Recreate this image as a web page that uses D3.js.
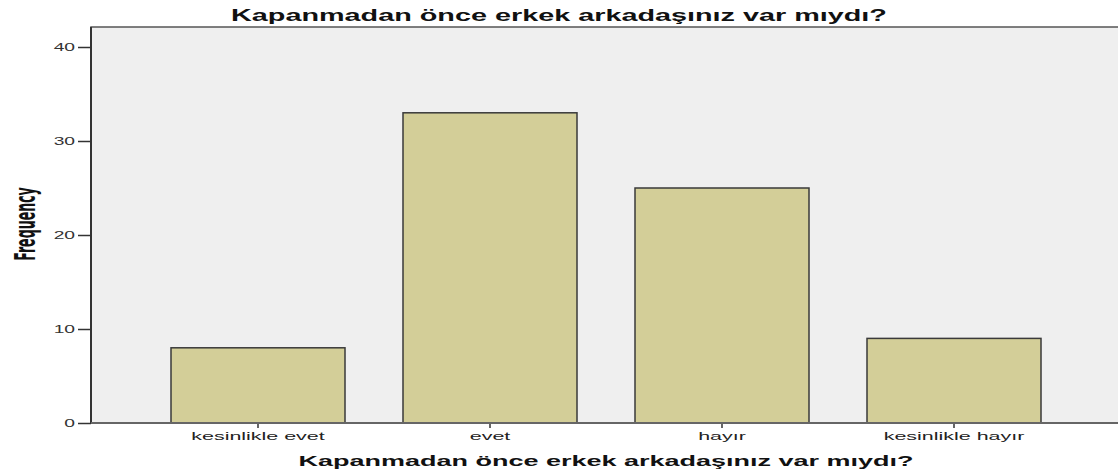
<!DOCTYPE html>
<html>
<head>
<meta charset="utf-8">
<script src="https://cdn.jsdelivr.net/npm/d3@7"></script>
<style>
  body { margin: 0; background: #fff; }
  svg { display: block; }
</style>
</head>
<body>
<svg width="1118" height="473"></svg>
<script>
var categories = ["kesinlikle evet", "evet", "hayır", "kesinlikle hayır"];
var frequencies = [8, 33, 25, 9];
var yTicks = [0, 10, 20, 30, 40];
var chartTitle = "Kapanmadan önce erkek arkadaşınız var mıydı?";
var xTitle = "Kapanmadan önce erkek arkadaşınız var mıydı?";
var yTitle = "Frequency";

var svg = d3.select("svg"), width = +svg.attr("width"), height = +svg.attr("height");
var plot = { left: 91, top: 27, right: 1120, bottom: 423 };
// the original picture is stretched sideways, text included
var stretch = 1.75;
var font = "Liberation Sans, Arial, sans-serif";

var x = d3.scaleBand().domain(categories).range([142, 1070]).paddingInner(0.25).paddingOuter(0.125);
var y = d3.scaleLinear().domain([0, 40]).range([plot.bottom, 47]);

// background of plot area
svg.append("rect")
	.attr("x", plot.left).attr("y", plot.top)
	.attr("width", plot.right - plot.left).attr("height", plot.bottom - plot.top)
	.attr("fill", "#efefef")
	.attr("stroke", "#555").attr("stroke-width", 1.5);

// bars
svg.append("g").attr("class", "bars").selectAll("rect").data(frequencies).enter().append("rect")
	.attr("x", function(d, i) { return x(categories[i]); })
	.attr("y", function(d) { return y(d); })
	.attr("width", x.bandwidth())
	.attr("height", function(d) { return y(0) - y(d); })
	.attr("fill", "#d3ce98")
	.attr("stroke", "#3a3a3a")
	.attr("stroke-width", 1.5);

// y axis
var yAxis = d3.axisLeft(y).tickValues(yTicks).tickSize(13).tickPadding(3);
var gy = svg.append("g").attr("transform", "translate(" + plot.left + ",0)").call(yAxis);
gy.select(".domain").remove();
gy.selectAll(".tick line").attr("stroke", "#333").attr("stroke-width", 1.5);
gy.selectAll(".tick text")
	.attr("font-family", font).attr("font-size", 11).attr("fill", "#333")
	.attr("x", -16 / stretch)
	.attr("transform", "scale(" + stretch + ",1)");

// left spine
svg.append("line").attr("x1", plot.left).attr("x2", plot.left).attr("y1", plot.top).attr("y2", plot.bottom)
	.attr("stroke", "#333").attr("stroke-width", 2);

// x axis
var xAxis = d3.axisBottom(x).tickSize(5).tickPadding(4);
var gx = svg.append("g").attr("transform", "translate(0," + plot.bottom + ")").call(xAxis);
gx.select(".domain").remove();
gx.selectAll(".tick line").attr("stroke", "#333").attr("stroke-width", 1.5);
gx.selectAll(".tick text")
	.attr("font-family", font).attr("font-size", 11).attr("fill", "#222")
	.attr("transform", "scale(1.95,1)");

svg.append("line").attr("x1", plot.left).attr("x2", width).attr("y1", plot.bottom).attr("y2", plot.bottom)
	.attr("stroke", "#666").attr("stroke-width", 2);

// titles
svg.append("text").attr("transform", "translate(559,21) scale(1.8,1)").attr("text-anchor", "middle")
	.attr("font-family", font).attr("font-weight", "bold").attr("font-size", 16)
	.attr("fill", "#111").text(chartTitle);

svg.append("text").attr("transform", "translate(606,466) scale(1.8,1)").attr("text-anchor", "middle")
	.attr("font-family", font).attr("font-weight", "bold").attr("font-size", 15)
	.attr("fill", "#111").text(xTitle);

svg.append("text").attr("transform", "translate(35,224) scale(2,1) rotate(-90)").attr("text-anchor", "middle")
	.attr("font-family", "Liberation Sans Narrow, DejaVu Sans Condensed, sans-serif").attr("font-weight", "bold").attr("font-size", 14)
	.attr("fill", "#111").text(yTitle);
</script>
</body>
</html>
